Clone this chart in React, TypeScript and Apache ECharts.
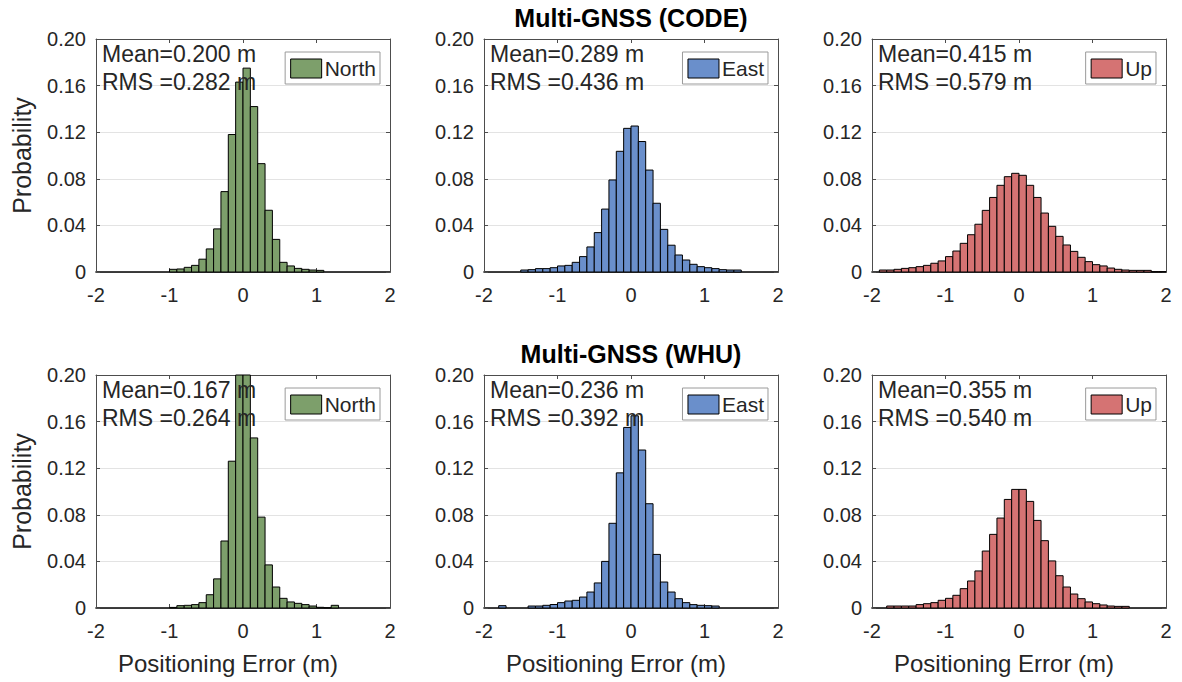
import React, { useEffect, useRef } from "react";
import * as echarts from "echarts";

// ---------- data ----------
const X_MIN = -2;
const X_MAX = 2;
const X_INTERVAL = 1;
const BIN_WIDTH = 0.1;
const Y_MAX = 0.2;
const Y_INTERVAL = 0.04;

const componentNames = ["North", "East", "Up"];
const groupTitles = ["Multi-GNSS (CODE)", "Multi-GNSS (WHU)"];

// probability per 0.1 m bin, bins from -2.0 to 2.0 (40 bins)
const northCODE = [
  0, 0, 0, 0, 0, 0, 0, 0, 0, 0,
  0.0023, 0.0026, 0.004, 0.0057, 0.011, 0.0198, 0.037, 0.069, 0.118, 0.163,
  0.175, 0.142, 0.093, 0.053, 0.028, 0.0083, 0.0052, 0.0031, 0.0023, 0.0017,
  0.0014, 0, 0, 0, 0, 0, 0, 0, 0, 0,
];
const eastCODE = [
  0, 0, 0, 0, 0, 0.0017, 0.002, 0.0029, 0.0029, 0.0037,
  0.0052, 0.0057, 0.0083, 0.0132, 0.0215, 0.0338, 0.054, 0.079, 0.1036, 0.1233,
  0.1253, 0.112, 0.0875, 0.059, 0.0366, 0.023, 0.0146, 0.0103, 0.0066, 0.0046,
  0.0037, 0.0029, 0.002, 0.0017, 0.0017, 0, 0, 0, 0, 0,
];
const upCODE = [
  0, 0.0017, 0.0017, 0.0023, 0.0031, 0.0037, 0.0046, 0.0057, 0.0075, 0.0095,
  0.0132, 0.018, 0.0246, 0.032, 0.041, 0.0529, 0.064, 0.0744, 0.0818, 0.0847,
  0.083, 0.0744, 0.064, 0.0506, 0.0392, 0.0306, 0.0232, 0.0177, 0.0126, 0.0089,
  0.0063, 0.0052, 0.0034, 0.0023, 0.0017, 0.0014, 0.0014, 0.0014, 0.0003, 0.0003,
];
const northWHU = [
  0, 0, 0, 0, 0, 0, 0, 0, 0, 0,
  0.0005, 0.002, 0.0023, 0.0029, 0.0046, 0.0114, 0.025, 0.0575, 0.126, 0.22,
  0.215, 0.146, 0.078, 0.037, 0.018, 0.0083, 0.0052, 0.004, 0.0029, 0.0017,
  0.0006, 0.0002, 0.0023, 0, 0, 0, 0, 0, 0, 0,
];
const eastWHU = [
  0, 0, 0.002, 0, 0, 0, 0.0017, 0.0017, 0.0023, 0.003,
  0.0046, 0.006, 0.0066, 0.0094, 0.0137, 0.0215, 0.04, 0.0727, 0.116, 0.155,
  0.165, 0.1356, 0.0895, 0.046, 0.0223, 0.0137, 0.008, 0.0046, 0.0029, 0.0023,
  0.002, 0.0017, 0, 0, 0, 0, 0, 0, 0, 0,
];
const upWHU = [
  0, 0, 0.0017, 0.0017, 0.0017, 0.0017, 0.0029, 0.0037, 0.0046, 0.0066,
  0.0083, 0.0109, 0.0166, 0.0232, 0.0318, 0.0489, 0.0632, 0.0772, 0.0932, 0.1018,
  0.1018, 0.0915, 0.0752, 0.0578, 0.0404, 0.0277, 0.018, 0.012, 0.008, 0.0052,
  0.0037, 0.0026, 0.0017, 0.0014, 0.0014, 0, 0, 0, 0, 0,
];

const panelValues = [northCODE, eastCODE, upCODE, northWHU, eastWHU, upWHU];
const meanValues = ["0.200", "0.289", "0.415", "0.167", "0.236", "0.355"];
const rmsValues = ["0.282", "0.436", "0.579", "0.264", "0.392", "0.540"];

// ---------- style / layout ----------
const COLORS = ["#7d9f6b", "#6a8fcb", "#d57373"];
const FONT = "'Liberation Sans', Arial, Helvetica, sans-serif";
const TXT = "#262626";
const AX = "#4d4d4d";
const W = 1182;
const H = 682;
const COL_LEFT = [96, 484, 872];
const ROW_TOP = [39, 375];
const PW = 294;
const PH = 233;

function buildOption() {
  const grid: any[] = [];
  const xAxis: any[] = [];
  const yAxis: any[] = [];
  const series: any[] = [];
  const legend: any[] = [];
  const graphic: any[] = [];

  for (let i = 0; i < 6; i++) {
    const r = Math.floor(i / 3);
    const c = i % 3;
    const color = COLORS[c];
    const name = componentNames[c];
    grid.push({ left: COL_LEFT[c], top: ROW_TOP[r], width: PW, height: PH });

    xAxis.push({
      gridIndex: i,
      type: "value",
      min: X_MIN,
      max: X_MAX,
      interval: X_INTERVAL,
      position: "bottom",
      axisLine: { show: true, onZero: false, lineStyle: { color: "#000", width: 1.6 } },
      axisTick: { show: true, inside: true, length: 4, lineStyle: { color: AX } },
      axisLabel: { show: true, color: TXT, fontSize: 20, fontFamily: FONT, margin: 13 },
      splitLine: { show: false },
      name: r === 1 ? "Positioning Error (m)" : "",
      nameLocation: "middle",
      nameGap: 43,
      nameTextStyle: { fontSize: 24, color: TXT, fontFamily: FONT, padding: [0, 30, 0, 0] },
    });
    xAxis.push({
      gridIndex: i,
      type: "value",
      min: X_MIN,
      max: X_MAX,
      interval: X_INTERVAL,
      position: "top",
      axisLine: { show: true, onZero: false, lineStyle: { color: AX } },
      axisTick: { show: true, inside: true, length: 4, lineStyle: { color: AX } },
      axisLabel: { show: false },
      splitLine: { show: false },
    });
    yAxis.push({
      gridIndex: i,
      type: "value",
      min: 0,
      max: Y_MAX,
      interval: Y_INTERVAL,
      position: "left",
      axisLine: { show: true, onZero: false, lineStyle: { color: AX } },
      axisTick: { show: true, inside: true, length: 4, lineStyle: { color: AX } },
      axisLabel: {
        show: true,
        color: TXT,
        fontSize: 20,
        fontFamily: FONT,
        margin: 10,
        formatter: (v: number) => (Math.abs(v) < 1e-9 ? "0" : v.toFixed(2)),
      },
      splitLine: { show: true, lineStyle: { color: "#e3e3e3", width: 1 } },
      name: c === 0 ? "Probability" : "",
      nameLocation: "middle",
      nameGap: 62,
      nameTextStyle: { fontSize: 25, color: TXT, fontFamily: FONT },
    });
    yAxis.push({
      gridIndex: i,
      type: "value",
      min: 0,
      max: Y_MAX,
      interval: Y_INTERVAL,
      position: "right",
      axisLine: { show: true, onZero: false, lineStyle: { color: AX } },
      axisTick: { show: true, inside: true, length: 4, lineStyle: { color: AX } },
      axisLabel: { show: false },
      splitLine: { show: false },
    });

    const values = panelValues[i];
    series.push({
      type: "custom",
      name,
      xAxisIndex: 2 * i,
      yAxisIndex: 2 * i,
      itemStyle: { color },
      encode: { x: [0, 1], y: 2 },
      data: values.map((v, k) => [X_MIN + k * BIN_WIDTH, X_MIN + (k + 1) * BIN_WIDTH, v]),
      z: 3,
      renderItem: (params: any, api: any) => {
        const lo = api.value(0);
        const hi = api.value(1);
        const v = api.value(2);
        if (!(v > 0)) return null;
        const a = api.coord([lo, v]);
        const b = api.coord([hi, 0]);
        const cs = params.coordSys;
        const shape = echarts.graphic.clipRectByRect(
          { x: a[0], y: a[1], width: b[0] - a[0], height: b[1] - a[1] },
          { x: cs.x, y: cs.y, width: cs.width, height: cs.height }
        );
        if (!shape) return null;
        return {
          type: "rect",
          shape,
          style: { fill: color, stroke: "#000", lineWidth: 1 },
        };
      },
    });

    legend.push({
      data: [
        {
          name,
          icon: "rect",
          itemStyle: { color, borderColor: "#000", borderWidth: 1 },
        },
      ],
      right: W - (COL_LEFT[c] + PW) + 10,
      top: ROW_TOP[r] + 13,
      orient: "vertical",
      itemWidth: 31,
      itemHeight: 19,
      backgroundColor: "#fff",
      borderColor: "#9a9a9a",
      borderWidth: 1,
      borderRadius: 0,
      padding: [6, 4, 5, 5],
      selectedMode: false,
      textStyle: { fontSize: 21, color: TXT, fontFamily: FONT, padding: [0, 0, 0, -2] },
      z: 20,
    });

    graphic.push({
      type: "text",
      x: COL_LEFT[c] + 6,
      y: ROW_TOP[r] + 1,
      z: 100,
      style: {
        text: `Mean=${meanValues[i]} m\nRMS =${rmsValues[i]} m`,
        font: `23px ${FONT}`,
        fill: TXT,
        lineHeight: 28,
        align: "left",
        verticalAlign: "top",
      },
    });
  }

  graphic.push({
    type: "text",
    x: COL_LEFT[1] + PW / 2,
    y: 18,
    z: 100,
    style: {
      text: groupTitles[0],
      font: `bold 25px ${FONT}`,
      fill: "#000",
      align: "center",
      verticalAlign: "middle",
    },
  });
  graphic.push({
    type: "text",
    x: COL_LEFT[1] + PW / 2,
    y: 354,
    z: 100,
    style: {
      text: groupTitles[1],
      font: `bold 25px ${FONT}`,
      fill: "#000",
      align: "center",
      verticalAlign: "middle",
    },
  });

  return {
    animation: false,
    backgroundColor: "#fff",
    textStyle: { fontFamily: FONT },
    grid,
    xAxis,
    yAxis,
    series,
    legend,
    graphic,
  };
}

export default function App() {
  const ref = useRef<HTMLDivElement>(null);
  useEffect(() => {
    if (!ref.current) return;
    const chart = echarts.init(ref.current, null, { renderer: "svg", width: W, height: H });
    chart.setOption(buildOption() as any);
    return () => chart.dispose();
  }, []);
  return (
    <div
      ref={ref}
      style={{ position: "fixed", left: 0, top: 0, width: W, height: H, background: "#fff" }}
    />
  );
}
